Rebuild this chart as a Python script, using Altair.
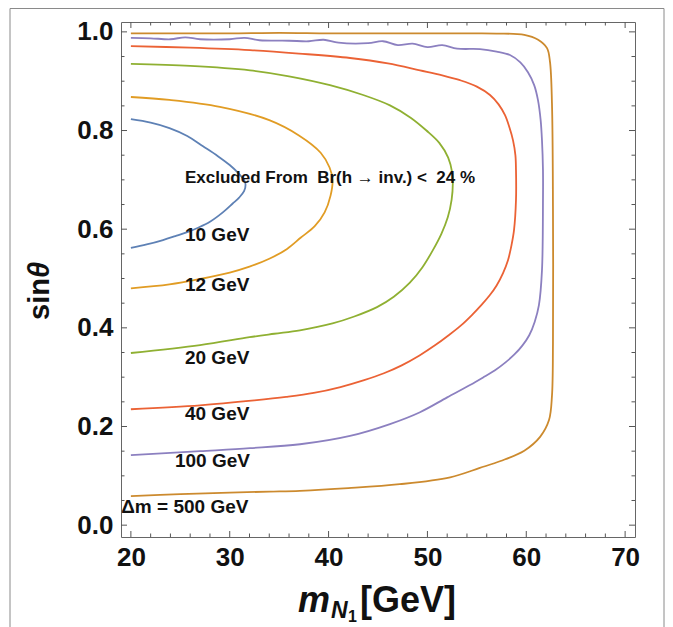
import altair as alt
import pandas as pd

# ---------------- data ----------------
series_names = ["10 GeV", "12 GeV", "20 GeV", "40 GeV", "100 GeV", "500 GeV"]
series_colors = ["#5E81B5", "#E19C24", "#8FB032", "#EB6235", "#8C80C0", "#CC8A2E"]

x_10 = [20.0, 22.0, 23.9, 25.7, 27.3, 28.8, 30.0, 30.9, 31.45, 31.6, 31.45, 30.95, 30.3, 29.3, 28.0, 26.8, 25.7, 24.5, 23.25, 21.6, 20.0]
y_10 = [0.823, 0.816, 0.805, 0.789, 0.768, 0.748, 0.730, 0.713, 0.700, 0.690, 0.677, 0.664, 0.652, 0.634, 0.615, 0.603, 0.594, 0.586, 0.578, 0.569, 0.562]

x_12 = [20.0, 23.9, 29.0, 34.0, 37.0, 39.2, 40.1, 40.4, 40.2, 39.6, 38.6, 37.2, 35.8, 34.0, 32.0, 30.0, 27.0, 23.9, 20.0]
y_12 = [0.868, 0.862, 0.848, 0.821, 0.790, 0.755, 0.725, 0.700, 0.668, 0.634, 0.606, 0.583, 0.560, 0.540, 0.524, 0.512, 0.499, 0.488, 0.480]

x_20 = [20.0, 26.0, 32.05, 36.0, 40.14, 43.5, 46.21, 48.3, 49.9, 51.2, 52.1, 52.5, 52.57, 52.45, 52.06, 51.4, 50.54, 49.5, 48.2, 46.6, 44.9, 42.6, 40.4, 37.1, 34.5, 32.0, 27.0, 20.0]
y_20 = [0.935, 0.931, 0.922, 0.910, 0.892, 0.872, 0.851, 0.826, 0.800, 0.775, 0.745, 0.715, 0.693, 0.660, 0.624, 0.590, 0.557, 0.523, 0.491, 0.463, 0.442, 0.423, 0.409, 0.395, 0.388, 0.381, 0.365, 0.349]

x_40 = [20.0, 26.0, 32.05, 37.0, 42.17, 46.0, 49.25, 51.5, 53.3, 55.0, 56.33, 57.2, 57.85, 58.3, 58.66, 58.9, 58.96, 58.96, 58.76, 58.5, 58.15, 57.65, 57.0, 56.3, 55.45, 54.5, 53.4, 52.15, 50.8, 49.2, 47.4, 45.6, 43.6, 41.2, 38.5, 35.7, 32.5, 27.0, 20.0]
y_40 = [0.971, 0.968, 0.963, 0.956, 0.947, 0.936, 0.922, 0.912, 0.902, 0.889, 0.872, 0.853, 0.831, 0.806, 0.780, 0.750, 0.720, 0.659, 0.598, 0.567, 0.537, 0.511, 0.486, 0.466, 0.446, 0.426, 0.405, 0.385, 0.365, 0.344, 0.324, 0.308, 0.294, 0.280, 0.268, 0.260, 0.253, 0.243, 0.235]

x_100 = [20.0, 22.0, 24.0, 25.5, 27.0, 30.0, 31.5, 33.0, 36.0, 38.0, 39.5, 41.0, 44.0, 45.5, 47.0, 48.5, 50.0, 51.5, 53.0, 55.32, 57.0, 58.35, 59.4, 60.17, 60.8, 61.18, 61.45, 61.59, 61.69, 61.69, 61.59, 61.28, 60.85, 60.3, 59.6, 58.8, 57.9, 56.84, 55.6, 54.31, 52.0, 49.25, 46.21, 42.17, 37.11, 32.05, 26.99, 20.0]
y_100 = [0.988, 0.987, 0.985, 0.989, 0.985, 0.985, 0.988, 0.983, 0.982, 0.981, 0.984, 0.978, 0.977, 0.981, 0.973, 0.976, 0.969, 0.973, 0.966, 0.965, 0.960, 0.953, 0.938, 0.918, 0.892, 0.862, 0.822, 0.780, 0.720, 0.659, 0.517, 0.446, 0.412, 0.385, 0.364, 0.346, 0.330, 0.314, 0.299, 0.284, 0.259, 0.229, 0.205, 0.181, 0.164, 0.156, 0.150, 0.142]

x_500 = [20.0, 25.0, 30.0, 35.0, 40.0, 45.0, 50.0, 55.3, 57.0, 59.8, 61.2, 62.1, 62.4, 62.6, 62.7, 62.7, 62.6, 62.3, 61.4, 59.8, 57.4, 55.3, 52.3, 47.2, 42.0, 37.1, 34.0, 30.0, 25.0, 20.0]
y_500 = [0.997, 0.997, 0.997, 0.998, 0.997, 0.997, 0.997, 0.997, 0.9965, 0.994, 0.984, 0.967, 0.939, 0.855, 0.646, 0.367, 0.262, 0.213, 0.179, 0.151, 0.130, 0.116, 0.097, 0.083, 0.075, 0.0696, 0.068, 0.066, 0.063, 0.059]

curve_x = [x_10, x_12, x_20, x_40, x_100, x_500]
curve_y = [y_10, y_12, y_20, y_40, y_100, y_500]

label_texts = ["10 GeV", "12 GeV", "20 GeV", "40 GeV", "100 GeV", "\u0394m = 500 GeV"]
label_x = [25.47, 25.47, 25.47, 25.47, 24.46, 19.02]
label_y = [0.576, 0.475, 0.326, 0.213, 0.118, 0.0237]

note_text = ["Excluded From \u00a0Br(h \u2192 inv.) < \u00a024 %"]
note_x = [25.47]
note_y = [0.693]

x_major_ticks = [20, 30, 40, 50, 60, 70]
x_minor_ticks = [22, 24, 26, 28, 32, 34, 36, 38, 42, 44, 46, 48, 52, 54, 56, 58, 62, 64, 66, 68]
y_major_ticks = [0.0, 0.2, 0.4, 0.6, 0.8, 1.0]
y_minor_ticks = [0.05, 0.1, 0.15, 0.25, 0.3, 0.35, 0.45, 0.5, 0.55, 0.65, 0.7, 0.75, 0.85, 0.9, 0.95]

# ---------------- build ----------------
rows = []
for name, xv_list, yv_list in zip(series_names, curve_x, curve_y):
    for i, (xv, yv) in enumerate(zip(xv_list, yv_list)):
        rows.append({"series": name, "x": xv, "y": yv, "i": i})
curves_df = pd.DataFrame(rows)

W, H = 514, 515
FONT = "Liberation Sans"
TICK = "#555555"
xs = alt.Scale(domain=[19, 71], nice=False, zero=False)
ys = alt.Scale(domain=[-0.024, 1.02], nice=False, zero=False)

x_axis = alt.Axis(values=x_major_ticks, format="d", ticks=False, domain=False, grid=False, title=None,
                  labelFont=FONT, labelFontSize=26, labelFontWeight="bold", labelColor="#111",
                  labelPadding=7)
y_axis = alt.Axis(values=y_major_ticks, format=".1f", ticks=False, domain=False, grid=False, title=None,
                  labelFont=FONT, labelFontSize=26, labelFontWeight="bold", labelColor="#111",
                  labelPadding=8)


def X(field):
    return alt.X(field, scale=xs, axis=x_axis)


def Y(field):
    return alt.Y(field, scale=ys, axis=y_axis)


lines = alt.Chart(curves_df).mark_line(strokeWidth=1.8, interpolate="catmull-rom").encode(
    x=X("x:Q"), y=Y("y:Q"),
    color=alt.Color("series:N", scale=alt.Scale(domain=series_names, range=series_colors), legend=None),
    order="i:Q",
)


def tick_layers(vals, L, axis):
    d = pd.DataFrame({"v": vals})
    base = alt.Chart(d).mark_rule(color=TICK, strokeWidth=1)
    if axis == "x":
        return [base.encode(x=X("v:Q"), y=alt.value(H), y2=alt.value(H - L)),
                base.encode(x=X("v:Q"), y=alt.value(0), y2=alt.value(L))]
    return [base.encode(y=Y("v:Q"), x=alt.value(0), x2=alt.value(L)),
            base.encode(y=Y("v:Q"), x=alt.value(W), x2=alt.value(W - L))]


ticks = (tick_layers(x_major_ticks, 6, "x") + tick_layers(x_minor_ticks, 3.5, "x")
         + tick_layers(y_major_ticks, 6, "y") + tick_layers(y_minor_ticks, 3.5, "y"))

labels_df = pd.DataFrame({"t": label_texts, "x": label_x, "y": label_y})
labels = alt.Chart(labels_df).mark_text(align="left", baseline="alphabetic", font=FONT, fontSize=19,
                                        fontWeight="bold", color="#111").encode(
    x=X("x:Q"), y=Y("y:Q"), text="t:N")

note_df = pd.DataFrame({"t": note_text, "x": note_x, "y": note_y})
note = alt.Chart(note_df).mark_text(align="left", baseline="alphabetic", font=FONT, fontSize=17,
                                    fontWeight="bold", color="#111").encode(
    x=X("x:Q"), y=Y("y:Q"), text="t:N")

# axis titles (positioned in pixels relative to the plot area)
one = pd.DataFrame({"k": [0]})
ytitle_sin = alt.Chart(one).mark_text(text="sin", font=FONT, fontSize=29, fontWeight="bold", angle=270,
                                      align="right", baseline="middle", color="#111").encode(
    x=alt.value(-81), y=alt.value(256))
ytitle_theta = alt.Chart(one).mark_text(text="\u03b8", font=FONT, fontSize=29, fontWeight="bold",
                                        fontStyle="italic", angle=270, align="left", baseline="middle",
                                        color="#111").encode(x=alt.value(-81), y=alt.value(256))
xt_m = alt.Chart(one).mark_text(text="m", font=FONT, fontSize=36, fontWeight="bold", fontStyle="italic",
                                align="left", baseline="alphabetic", color="#111").encode(
    x=alt.value(177), y=alt.value(590))
xt_n = alt.Chart(one).mark_text(text="N", font=FONT, fontSize=23, fontWeight="bold", fontStyle="italic",
                                align="left", baseline="alphabetic", color="#111").encode(
    x=alt.value(210), y=alt.value(596))
xt_1 = alt.Chart(one).mark_text(text="1", font=FONT, fontSize=16, fontWeight="bold",
                                align="left", baseline="alphabetic", color="#111").encode(
    x=alt.value(227), y=alt.value(600))
xt_gev = alt.Chart(one).mark_text(text="[GeV]", font=FONT, fontSize=36, fontWeight="bold",
                                  align="left", baseline="alphabetic", color="#111").encode(
    x=alt.value(239), y=alt.value(590))

# outer figure border
border_l = alt.Chart(one).mark_rule(color="#8a8a8a", strokeWidth=1).encode(
    x=alt.value(-111), y=alt.value(-13.5), y2=alt.value(640))
border_r = alt.Chart(one).mark_rule(color="#8a8a8a", strokeWidth=1).encode(
    x=alt.value(543), y=alt.value(-13.5), y2=alt.value(640))
border_t = alt.Chart(one).mark_rule(color="#8a8a8a", strokeWidth=1).encode(
    x=alt.value(-111), x2=alt.value(543), y=alt.value(-13.5))

chart = alt.layer(
    lines, *ticks, labels, note, ytitle_sin, ytitle_theta, xt_m, xt_n, xt_1, xt_gev,
    border_l, border_r, border_t
).properties(
    width=W, height=H,
    padding={"left": 113, "top": 14, "right": 30, "bottom": 100},
    autosize=alt.AutoSizeParams(type="none"),
    background="white",
).configure_view(stroke="#666666", strokeWidth=1)

chart.save("out.html", embed_options={"renderer": "svg", "actions": False})
